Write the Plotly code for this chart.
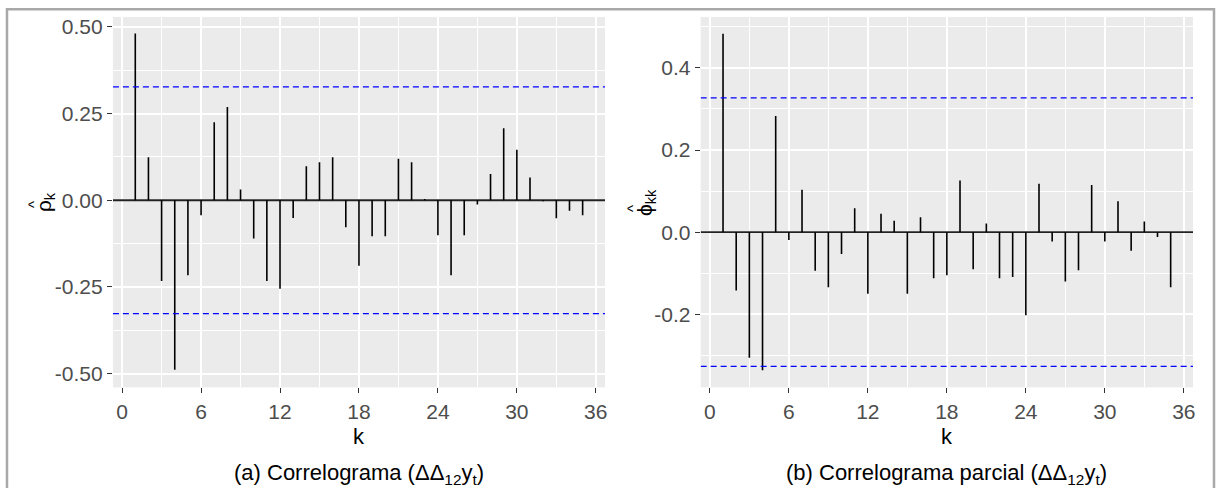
import plotly.graph_objects as go

# ---- data ----
lags = list(range(1, 36))
acf_vals = [0.481, 0.124, -0.233, -0.489, -0.216, -0.043, 0.225, 0.269, 0.031, -0.110,
            -0.233, -0.255, -0.051, 0.098, 0.110, 0.124, -0.078, -0.189, -0.104, -0.104,
            0.120, 0.110, 0.004, -0.101, -0.216, -0.101, -0.012, 0.076, 0.208, 0.146,
            0.066, -0.003, -0.052, -0.030, -0.043]
pacf_vals = [0.483, -0.142, -0.306, -0.336, 0.283, -0.019, 0.103, -0.094, -0.134, -0.053,
             0.058, -0.150, 0.045, 0.028, -0.150, 0.036, -0.112, -0.105, 0.126, -0.090,
             0.021, -0.112, -0.109, -0.202, 0.118, -0.023, -0.120, -0.093, 0.115, -0.023,
             0.075, -0.045, 0.026, -0.012, -0.134]
conf_limit = 0.327

x_ticks = [0, 6, 12, 18, 24, 30, 36]
x_minor = [3, 9, 15, 21, 27, 33]
left_y_ticks = [-0.5, -0.25, 0.0, 0.25, 0.5]
left_y_labels = ["-0.50", "-0.25", "0.00", "0.25", "0.50"]
left_y_minor = [-0.375, -0.125, 0.125, 0.375]
right_y_ticks = [-0.2, 0.0, 0.2, 0.4]
right_y_labels = ["-0.2", "0.0", "0.2", "0.4"]
right_y_minor = [-0.3, -0.1, 0.1, 0.3, 0.5]

captions = ["(a) Correlograma (ΔΔ<sub>12</sub>y<sub>t</sub>)",
            "(b) Correlograma parcial (ΔΔ<sub>12</sub>y<sub>t</sub>)"]
y_titles = ["ρ<sub>k</sub>", "ϕ<sub>kk</sub>"]
hat = "^"
x_title = "k"

W, H = 1218, 488
FONT = "Liberation Sans, Arial, Helvetica, sans-serif"

fig = go.Figure()

def stems(xs, ys):
    X, Y = [], []
    for a, b in zip(xs, ys):
        X += [a, a, None]
        Y += [0, b, None]
    return X, Y

x_range = [-0.7, 36.7]
panels = [
    dict(vals=acf_vals, xa="x", ya="y", yrange=[-0.540, 0.529],
         ticks=left_y_ticks, labels=left_y_labels, minor=left_y_minor,
         px=(113.1, 606.0), title_xy=(45, 201), hat_xy=(33, 203)),
    dict(vals=pacf_vals, xa="x2", ya="y2", yrange=[-0.378, 0.524],
         ticks=right_y_ticks, labels=right_y_labels, minor=right_y_minor,
         px=(701.8, 1195.0), title_xy=(647, 201), hat_xy=(633, 207)),
]

for p in panels:
    # zero line
    fig.add_trace(go.Scatter(x=x_range, y=[0, 0], mode="lines",
                             line=dict(color="#222222", width=1.8),
                             xaxis=p["xa"], yaxis=p["ya"], hoverinfo="skip"))
    sx, sy = stems(lags, p["vals"])
    fig.add_trace(go.Scatter(x=sx, y=sy, mode="lines",
                             line=dict(color="black", width=1.6),
                             xaxis=p["xa"], yaxis=p["ya"]))
    for c in (conf_limit, -conf_limit):
        fig.add_trace(go.Scatter(x=x_range, y=[c, c], mode="lines",
                                 line=dict(color="#0000FF", width=1.3, dash="6px,4px"),
                                 xaxis=p["xa"], yaxis=p["ya"], hoverinfo="skip"))

y_dom = [1 - 387 / H, 1 - 15 / H]
axis_common = dict(showline=False, zeroline=False, ticks="outside", ticklen=5,
                   tickwidth=1.3, tickcolor="#333333",
                   tickfont=dict(family=FONT, size=21, color="#4D4D4D"),
                   showgrid=True, gridcolor="white", gridwidth=1.7)

layout = dict(width=W, height=H, margin=dict(l=0, r=0, t=0, b=0),
              paper_bgcolor="white", plot_bgcolor="#EBEBEB", showlegend=False,
              font=dict(family=FONT))
for i, p in enumerate(panels):
    sfx = "" if i == 0 else "2"
    layout["xaxis" + sfx] = dict(axis_common, domain=[p["px"][0] / W, p["px"][1] / W],
                                 range=x_range, tickmode="array", tickvals=x_ticks,
                                 ticktext=[str(v) for v in x_ticks],
                                 anchor="y" + sfx,
                                 minor=dict(tickvals=x_minor, showgrid=True,
                                            gridcolor="white", gridwidth=0.9, ticks=""))
    layout["yaxis" + sfx] = dict(axis_common, domain=y_dom, range=p["yrange"],
                                 tickmode="array", tickvals=p["ticks"], ticktext=p["labels"],
                                 anchor="x" + sfx,
                                 minor=dict(tickvals=p["minor"], showgrid=True,
                                            gridcolor="white", gridwidth=0.9, ticks=""))
fig.update_layout(**layout)

# outer frame
fig.add_shape(type="rect", xref="paper", yref="paper",
              x0=7 / W, x1=1216 / W, y0=-20 / H, y1=1 - 7.3 / H,
              line=dict(color="#A8A8A8", width=2.5), fillcolor="rgba(0,0,0,0)", layer="above")

def ann(x, y, text, size, angle=0):
    fig.add_annotation(x=x / W, y=1 - y / H, xref="paper", yref="paper",
                       xanchor="center", yanchor="middle", text=text, showarrow=False,
                       textangle=angle, font=dict(family=FONT, size=size, color="black"))

for i, p in enumerate(panels):
    cx = (p["px"][0] + p["px"][1]) / 2
    ann(cx, 436, x_title, 22)
    ann(cx, 474, captions[i], 22)
    ann(p["title_xy"][0], p["title_xy"][1], y_titles[i], 21, -90)
    ann(p["hat_xy"][0], p["hat_xy"][1], hat, 15, -90)

fig.write_html("out.html")
